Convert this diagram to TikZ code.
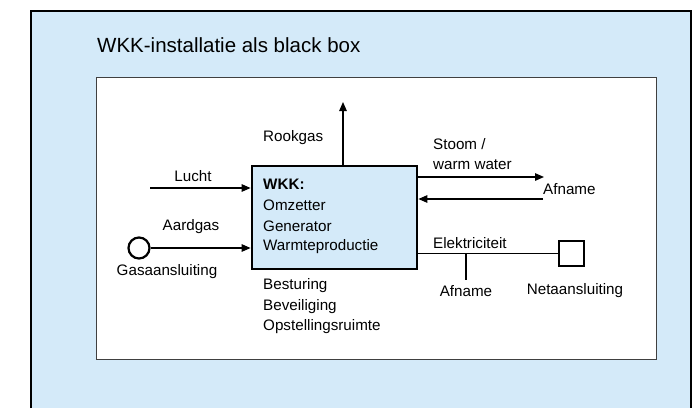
\documentclass[tikz,border=0pt]{standalone}
\usepackage{fontspec}
\setmainfont{Liberation Sans}
\usetikzlibrary{arrows.meta}
\definecolor{panelblue}{HTML}{D4EAF9}
\tikzset{
  lbl/.style={inner sep=0pt, font=\fontsize{15.2}{18}\selectfont},
  lbll/.style={lbl, anchor=west},
  flow/.style={line width=1.3pt, -{Triangle[length=9pt,width=7.5pt]}},
  wire/.style={line width=1.3pt},
  unit/.style={draw, line width=2.8pt, fill=panelblue, minimum width=165pt, minimum height=103pt, inner sep=0pt},
  port/.style={draw, line width=2.2pt, fill=white, inner sep=0pt}
}
\begin{document}
\begin{tikzpicture}[x=1pt, y=-1pt]
\useasboundingbox (0,0) rectangle (696,408);
% outer panel (runs off the bottom edge)
\fill[panelblue] (31,11) rectangle (691,408);
\draw[line width=1.1pt] (31,408) -- (31,11) -- (691,11) -- (691,408);
\node[anchor=west, inner sep=0pt, font=\fontsize{20.5}{24}\selectfont] (title) at (97,45) {WKK-installatie als black box};
% inner diagram area with a soft shadow
\draw[gray!60, line width=1.4pt] (97.5,359.5) -- (656.5,359.5) -- (656.5,78);
\fill[white] (96,77) rectangle (656,359);
\draw[black!75, line width=1pt] (96,77) rectangle (656,359);

% central unit
\node[unit] (wkk) at (334.5,217.5) {};
\node[lbll] (t1) at (263,184) {\textbf{WKK:}};
\node[lbll] (t2) at (263,205) {Omzetter};
\node[lbll] (t3) at (263,226) {Generator};
\node[lbll] (t4) at (263,247) {Warmteproductie};

% below the unit
\node[lbll] (b1) at (263,286) {Besturing};
\node[lbll] (b2) at (263,307) {Beveiliging};
\node[lbll] (b3) at (263,327) {Opstellingsruimte};

% flue gas
\coordinate (rookend) at (343,102);
\draw[flow] (wkk.north -| rookend) -- (rookend);
\node[lbll] (rook) at (263,138) {Rookgas};

% air
\coordinate (luchtin) at (150,188);
\draw[flow] (luchtin) -- (wkk.west |- luchtin);
\node[lbl] (lucht) at (193,176) {Lucht};

% natural gas
\node[port, circle, minimum size=21pt] (gas) at (139,248) {};
\draw[flow] (gas.east) -- (wkk.west |- gas.east);
\node[lbl] (aardgas) at (191,227) {Aardgas};
\node[lbl] (gasaans) at (167,272) {Gasaansluiting};

% steam / hot water
\coordinate (stoomend) at (544,177);
\coordinate (retour) at (543,199);
\draw[flow] (wkk.east |- stoomend) -- (stoomend);
\draw[flow] (retour) -- (wkk.east |- retour);
\node[lbll] (stoom1) at (433,144) {Stoom /};
\node[lbll] (stoom2) at (433,165) {warm water};
\node[lbll] (afn1) at (543,189) {Afname};

% electricity
\node[port, minimum size=25pt] (net) at (571.5,253.5) {};
\draw[wire] (wkk.east |- net.west) -- (net.west);
\coordinate (tap) at (466,253.5);
\coordinate (tapend) at (466,280);
\draw[wire] (tap) -- (tapend);
\node[lbll] (elek) at (433,243) {Elektriciteit};
\node[lbl] (afn2) at (466,291) {Afname};
\node[lbl] (netaans) at (575,291) {Netaansluiting};
\end{tikzpicture}
\end{document}
